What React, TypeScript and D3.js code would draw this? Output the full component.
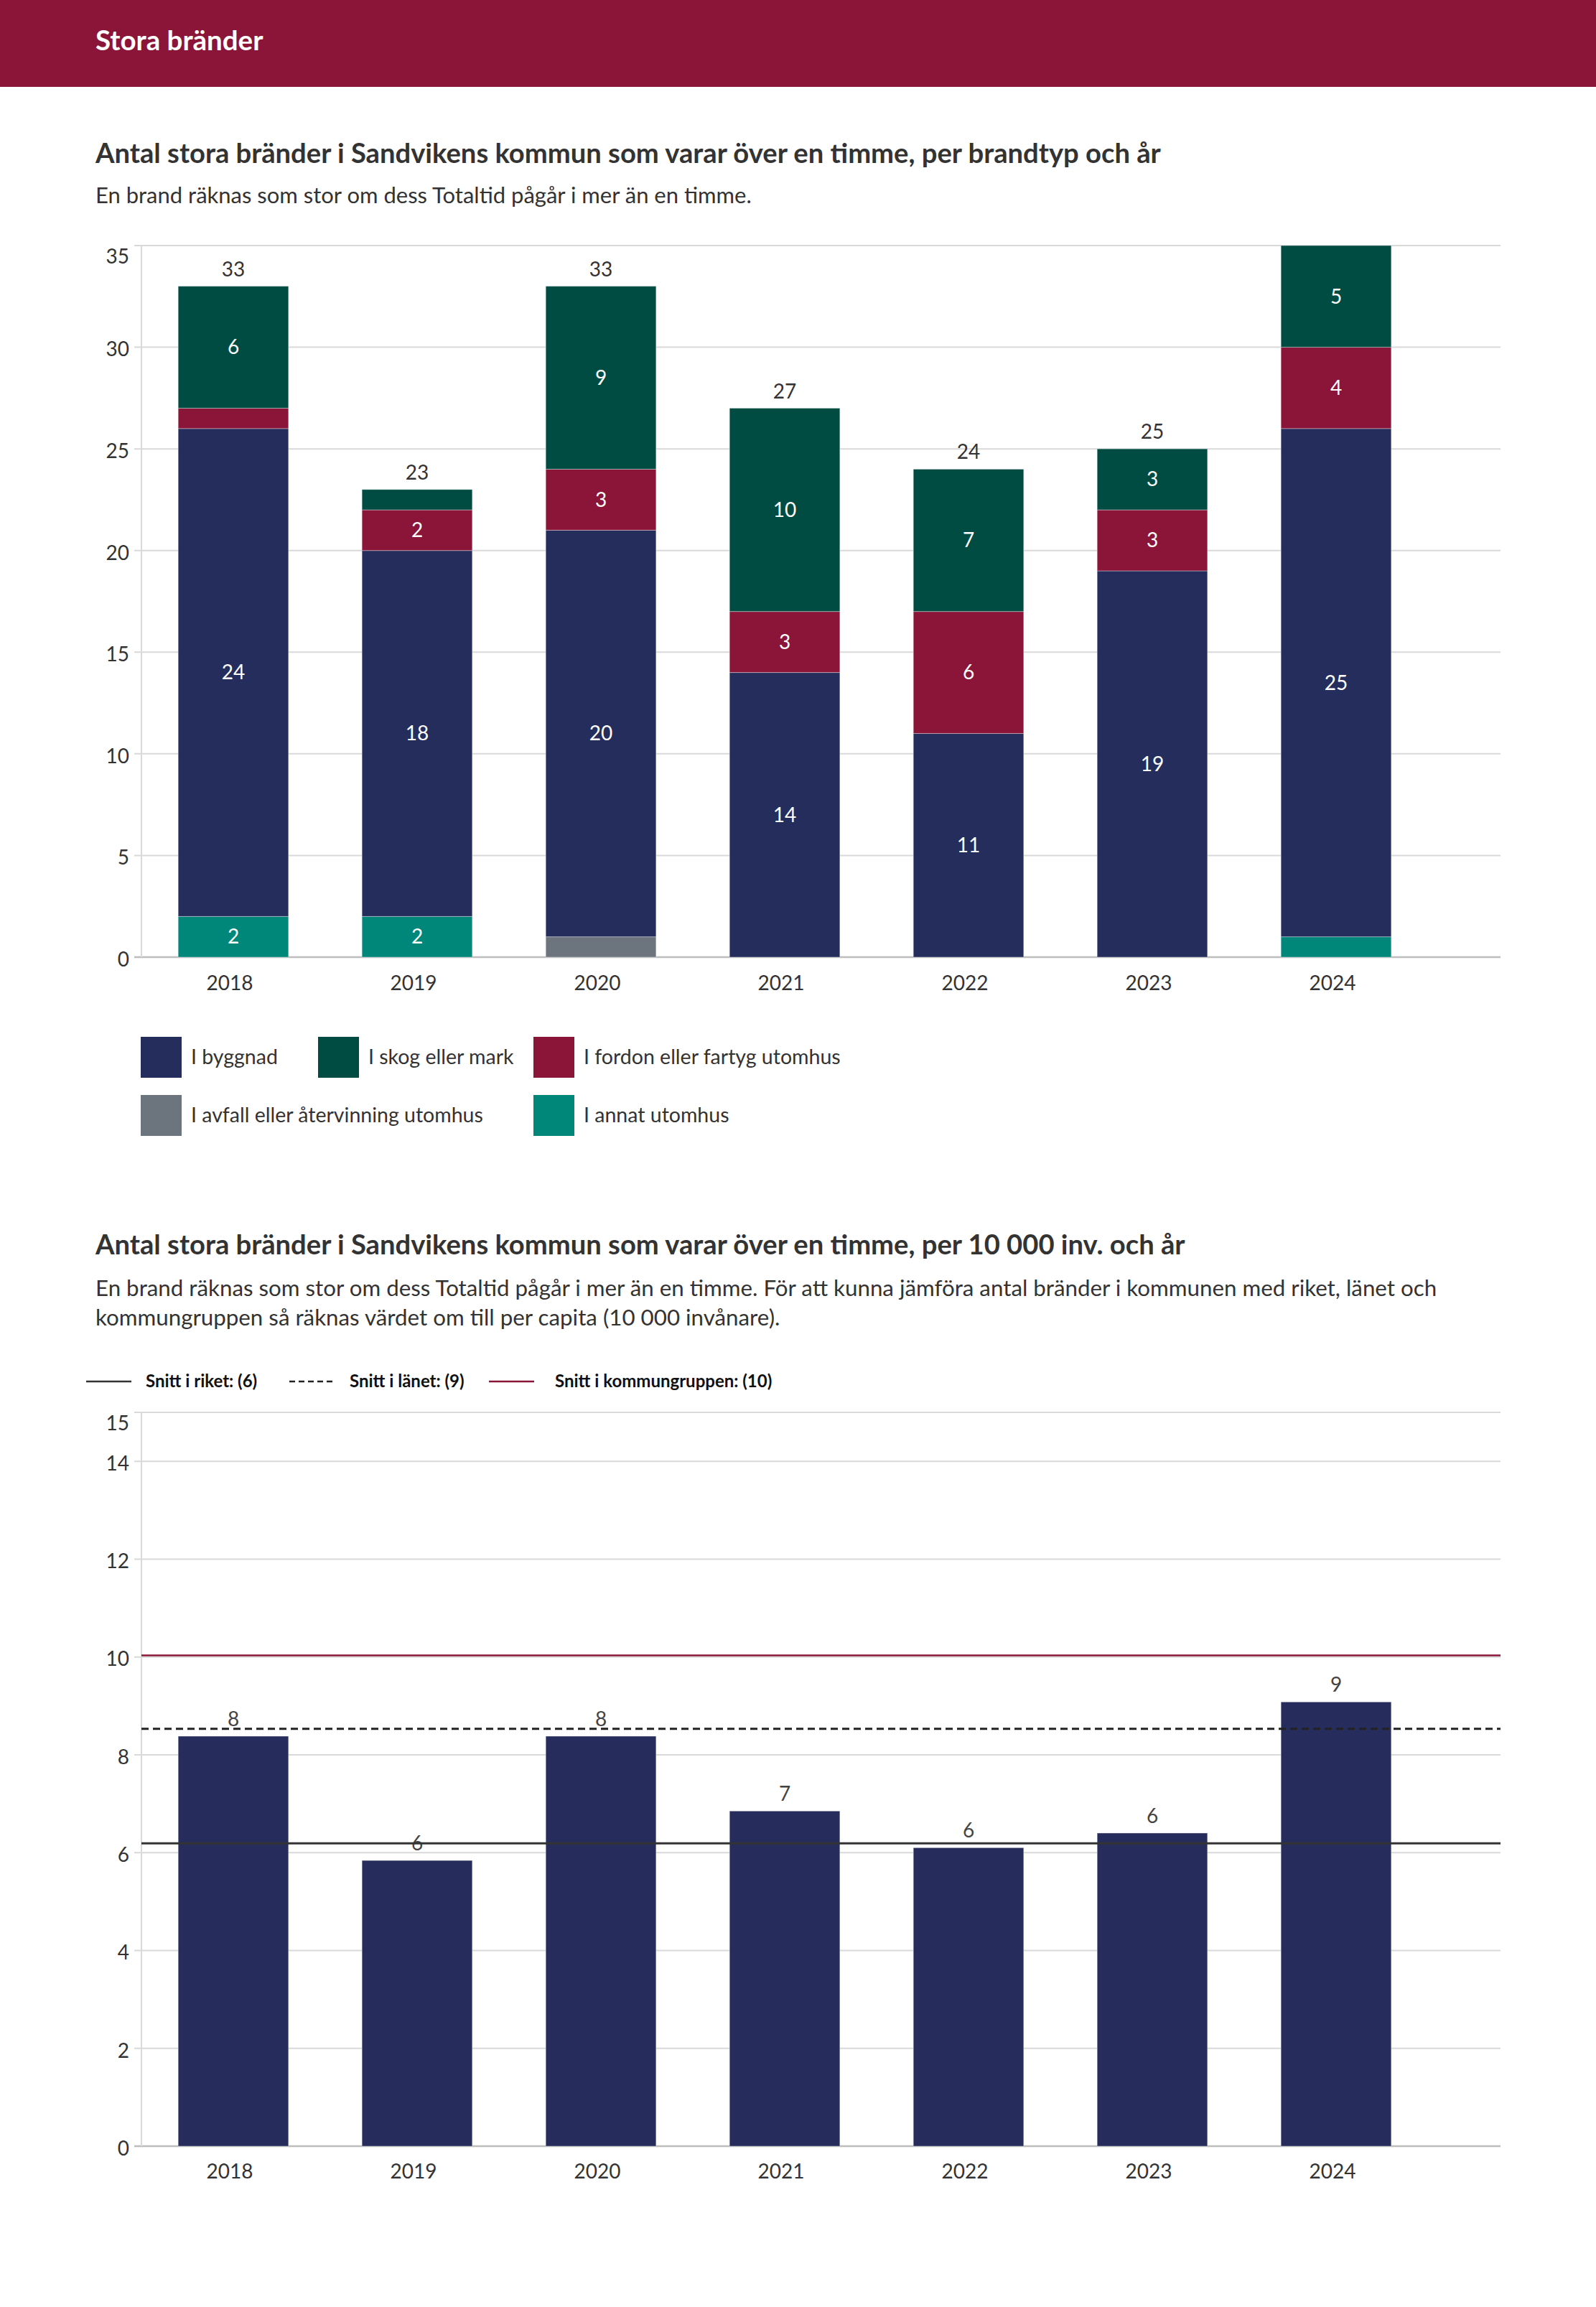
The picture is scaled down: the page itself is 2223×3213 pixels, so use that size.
import React, { useEffect } from 'react';
import * as d3 from 'd3';

// ---- data ----
const years = ['2018', '2019', '2020', '2021', '2022', '2023', '2024'];

const iByggnad = [24, 18, 20, 14, 11, 19, 25];
const iSkog = [6, 1, 9, 10, 7, 3, 5];
const iFordon = [1, 2, 3, 3, 6, 3, 4];
const iAvfall = [0, 0, 1, 0, 0, 0, 0];
const iAnnat = [2, 2, 0, 0, 0, 0, 1];

const perCapita = [8.38, 5.84, 8.38, 6.85, 6.1, 6.4, 9.08];
const snittRiket = 6.19;
const snittLanet = 8.53;
const snittKommungrupp = 10.03;

const ticks1 = [0, 5, 10, 15, 20, 25, 30, 35];
const ticks2 = [0, 2, 4, 6, 8, 10, 12, 14, 15];

// ---- styling ----
const W = 2223;
const H = 3213;
const FONT = "Lato, 'Noto Sans', sans-serif";
const TEXT = '#333333';
const GRID = '#d9d9d9';

const series = [
  // stacking order bottom -> top
  { key: 'annat', name: 'I annat utomhus', color: '#00877a', values: iAnnat },
  { key: 'avfall', name: 'I avfall eller återvinning utomhus', color: '#6c747e', values: iAvfall },
  { key: 'byggnad', name: 'I byggnad', color: '#252d5c', values: iByggnad },
  { key: 'fordon', name: 'I fordon eller fartyg utomhus', color: '#8b1538', values: iFordon },
  { key: 'skog', name: 'I skog eller mark', color: '#004c43', values: iSkog },
];

// legend layout (order as in the chart legend)
const legend1 = [
  { key: 'byggnad', x: 196, row: 0 },
  { key: 'skog', x: 443, row: 0 },
  { key: 'fordon', x: 743, row: 0 },
  { key: 'avfall', x: 196, row: 1 },
  { key: 'annat', x: 743, row: 1 },
];

const plotLeft = 197;
const plotRight = 2090;

const x = d3
  .scaleBand<string>()
  .domain(years)
  .range([plotLeft, plotLeft + 7 * 256])
  .paddingInner(0.4)
  .paddingOuter(0.2);

const y1 = d3.scaleLinear().domain([0, 35]).range([1333, 342]);
const y2 = d3.scaleLinear().domain([0, 15]).range([2989, 1967]);

const center = (yr: string) => x(yr)! + x.bandwidth() / 2;

// top tick label is pushed below the plot edge, the others sit just under their grid line
const tickDy = (t: number, max: number) => (t === max ? 15 : 3);

const StackedChart: React.FC = () => {
  const stacked = d3
    .stack<number>()
    .keys(series.map((s) => s.key))
    .value((i, key) => series.find((s) => s.key === key)!.values[i])(d3.range(years.length));

  const totals = years.map((_, i) => d3.sum(series, (s) => s.values[i]));

  return (
    <g>
      {ticks1.map((t) => (
        <g key={t}>
          <line x1={plotLeft - 10} x2={plotRight} y1={y1(t)} y2={y1(t)} stroke={t === 0 ? '#bdbdbd' : GRID} strokeWidth={t === 0 ? 2.5 : 2} />
          <text x={180} y={y1(t) + tickDy(t, 35)} dy="0.35em" textAnchor="end" fontSize={28} fill={TEXT}>
            {t}
          </text>
        </g>
      ))}
      <line x1={plotLeft} x2={plotLeft} y1={y1(35)} y2={y1(0)} stroke={GRID} strokeWidth={2} />

      {stacked.map((layer, li) => (
        <g key={layer.key}>
          {layer.map((d, i) => {
            const v = d[1] - d[0];
            if (v <= 0) return null;
            const top = y1(d[1]);
            const h = y1(d[0]) - top;
            return (
              <g key={i}>
                <rect x={x(years[i])} y={top} width={x.bandwidth()} height={h} fill={series[li].color} stroke="rgba(255,255,255,0.35)" strokeWidth={1} />
                {h > 34 && (
                  <text x={center(years[i])} y={top + h / 2} dy="0.35em" textAnchor="middle" fontSize={28} fill="#ffffff">
                    {v}
                  </text>
                )}
              </g>
            );
          })}
        </g>
      ))}

      {totals.map((t, i) =>
        y1(t) - 14 > y1(35) + 20 ? (
          <text key={i} x={center(years[i])} y={y1(t) - 14} textAnchor="middle" fontSize={28} fill={TEXT}>
            {t}
          </text>
        ) : null
      )}

      {years.map((yr) => (
        <text key={yr} x={center(yr) - 5} y={1379} textAnchor="middle" fontSize={28} fill={TEXT}>
          {yr}
        </text>
      ))}

      {legend1.map((l) => {
        const s = series.find((d) => d.key === l.key)!;
        const top = 1444 + l.row * 81;
        return (
          <g key={l.key}>
            <rect x={l.x} y={top} width={57} height={57} fill={s.color} />
            <text x={l.x + 70} y={top + 28.5} dy="0.35em" fontSize={28.5} fill={TEXT}>
              {s.name}
            </text>
          </g>
        );
      })}
    </g>
  );
};

const PerCapitaChart: React.FC = () => {
  const refLines = [
    { name: 'Snitt i riket', value: snittRiket, color: '#333333', dash: undefined as string | undefined, width: 3, lx: 120, tx: 203 },
    { name: 'Snitt i länet', value: snittLanet, color: '#222222', dash: '10,6', width: 3, lx: 403, tx: 487 },
    { name: 'Snitt i kommungruppen', value: snittKommungrupp, color: '#8b1538', dash: undefined, width: 2.5, lx: 681, tx: 773 },
  ];

  return (
    <g>
      {refLines.map((r) => (
        <g key={r.name}>
          <line x1={r.lx} x2={r.lx + 63} y1={1924} y2={1924} stroke={r.color} strokeWidth={2.5} strokeDasharray={r.dash ? '8,5' : undefined} />
          <text x={r.tx} y={1924} dy="0.35em" fontSize={24} fontWeight={700} fill="#111111">
            {`${r.name}: (${Math.round(r.value)})`}
          </text>
        </g>
      ))}

      {ticks2.map((t) => (
        <g key={t}>
          <line x1={plotLeft - 10} x2={plotRight} y1={y2(t)} y2={y2(t)} stroke={t === 0 ? '#bdbdbd' : GRID} strokeWidth={t === 0 ? 2.5 : 2} />
          <text x={180} y={y2(t) + tickDy(t, 15)} dy="0.35em" textAnchor="end" fontSize={28} fill={TEXT}>
            {t}
          </text>
        </g>
      ))}
      <line x1={plotLeft} x2={plotLeft} y1={y2(15)} y2={y2(0)} stroke={GRID} strokeWidth={2} />

      {perCapita.map((v, i) => (
        <g key={years[i]}>
          <rect x={x(years[i])} y={y2(v)} width={x.bandwidth()} height={y2(0) - y2(v)} fill="#262d5c" stroke="rgba(255,255,255,0.35)" strokeWidth={1} />
          <text x={center(years[i])} y={y2(v) - 14} textAnchor="middle" fontSize={28} fill="#444444">
            {Math.round(v)}
          </text>
        </g>
      ))}

      {refLines.map((r) => (
        <line key={r.name} x1={plotLeft} x2={plotRight} y1={y2(r.value)} y2={y2(r.value)} stroke={r.color} strokeWidth={r.width} strokeDasharray={r.dash} />
      ))}

      {years.map((yr) => (
        <text key={yr} x={center(yr) - 5} y={3034} textAnchor="middle" fontSize={28} fill={TEXT}>
          {yr}
        </text>
      ))}
    </g>
  );
};

export default function App() {
  useEffect(() => {
    document.body.style.margin = '0';
  }, []);

  return (
    <svg width={W} height={H} viewBox={`0 0 ${W} ${H}`} style={{ display: 'block', fontFamily: FONT }}>
      <rect width={W} height={H} fill="#ffffff" />
      <rect width={W} height={121} fill="#8b1538" />
      <text x={133} y={70} fontSize={38.5} fontWeight={700} fill="#ffffff">
        Stora bränder
      </text>

      <text x={133} y={227} fontSize={38.2} fontWeight={700} fill={TEXT}>
        Antal stora bränder i Sandvikens kommun som varar över en timme, per brandtyp och år
      </text>
      <text x={133} y={283} fontSize={31} fill={TEXT}>
        En brand räknas som stor om dess Totaltid pågår i mer än en timme.
      </text>
      <StackedChart />

      <text x={133} y={1747} fontSize={38.2} fontWeight={700} fill={TEXT}>
        Antal stora bränder i Sandvikens kommun som varar över en timme, per 10 000 inv. och år
      </text>
      <text x={133} y={1805} fontSize={31.3} fill={TEXT}>
        En brand räknas som stor om dess Totaltid pågår i mer än en timme. För att kunna jämföra antal bränder i kommunen med riket, länet och
      </text>
      <text x={133} y={1846} fontSize={31.3} fill={TEXT}>
        kommungruppen så räknas värdet om till per capita (10 000 invånare).
      </text>
      <PerCapitaChart />
    </svg>
  );
}
